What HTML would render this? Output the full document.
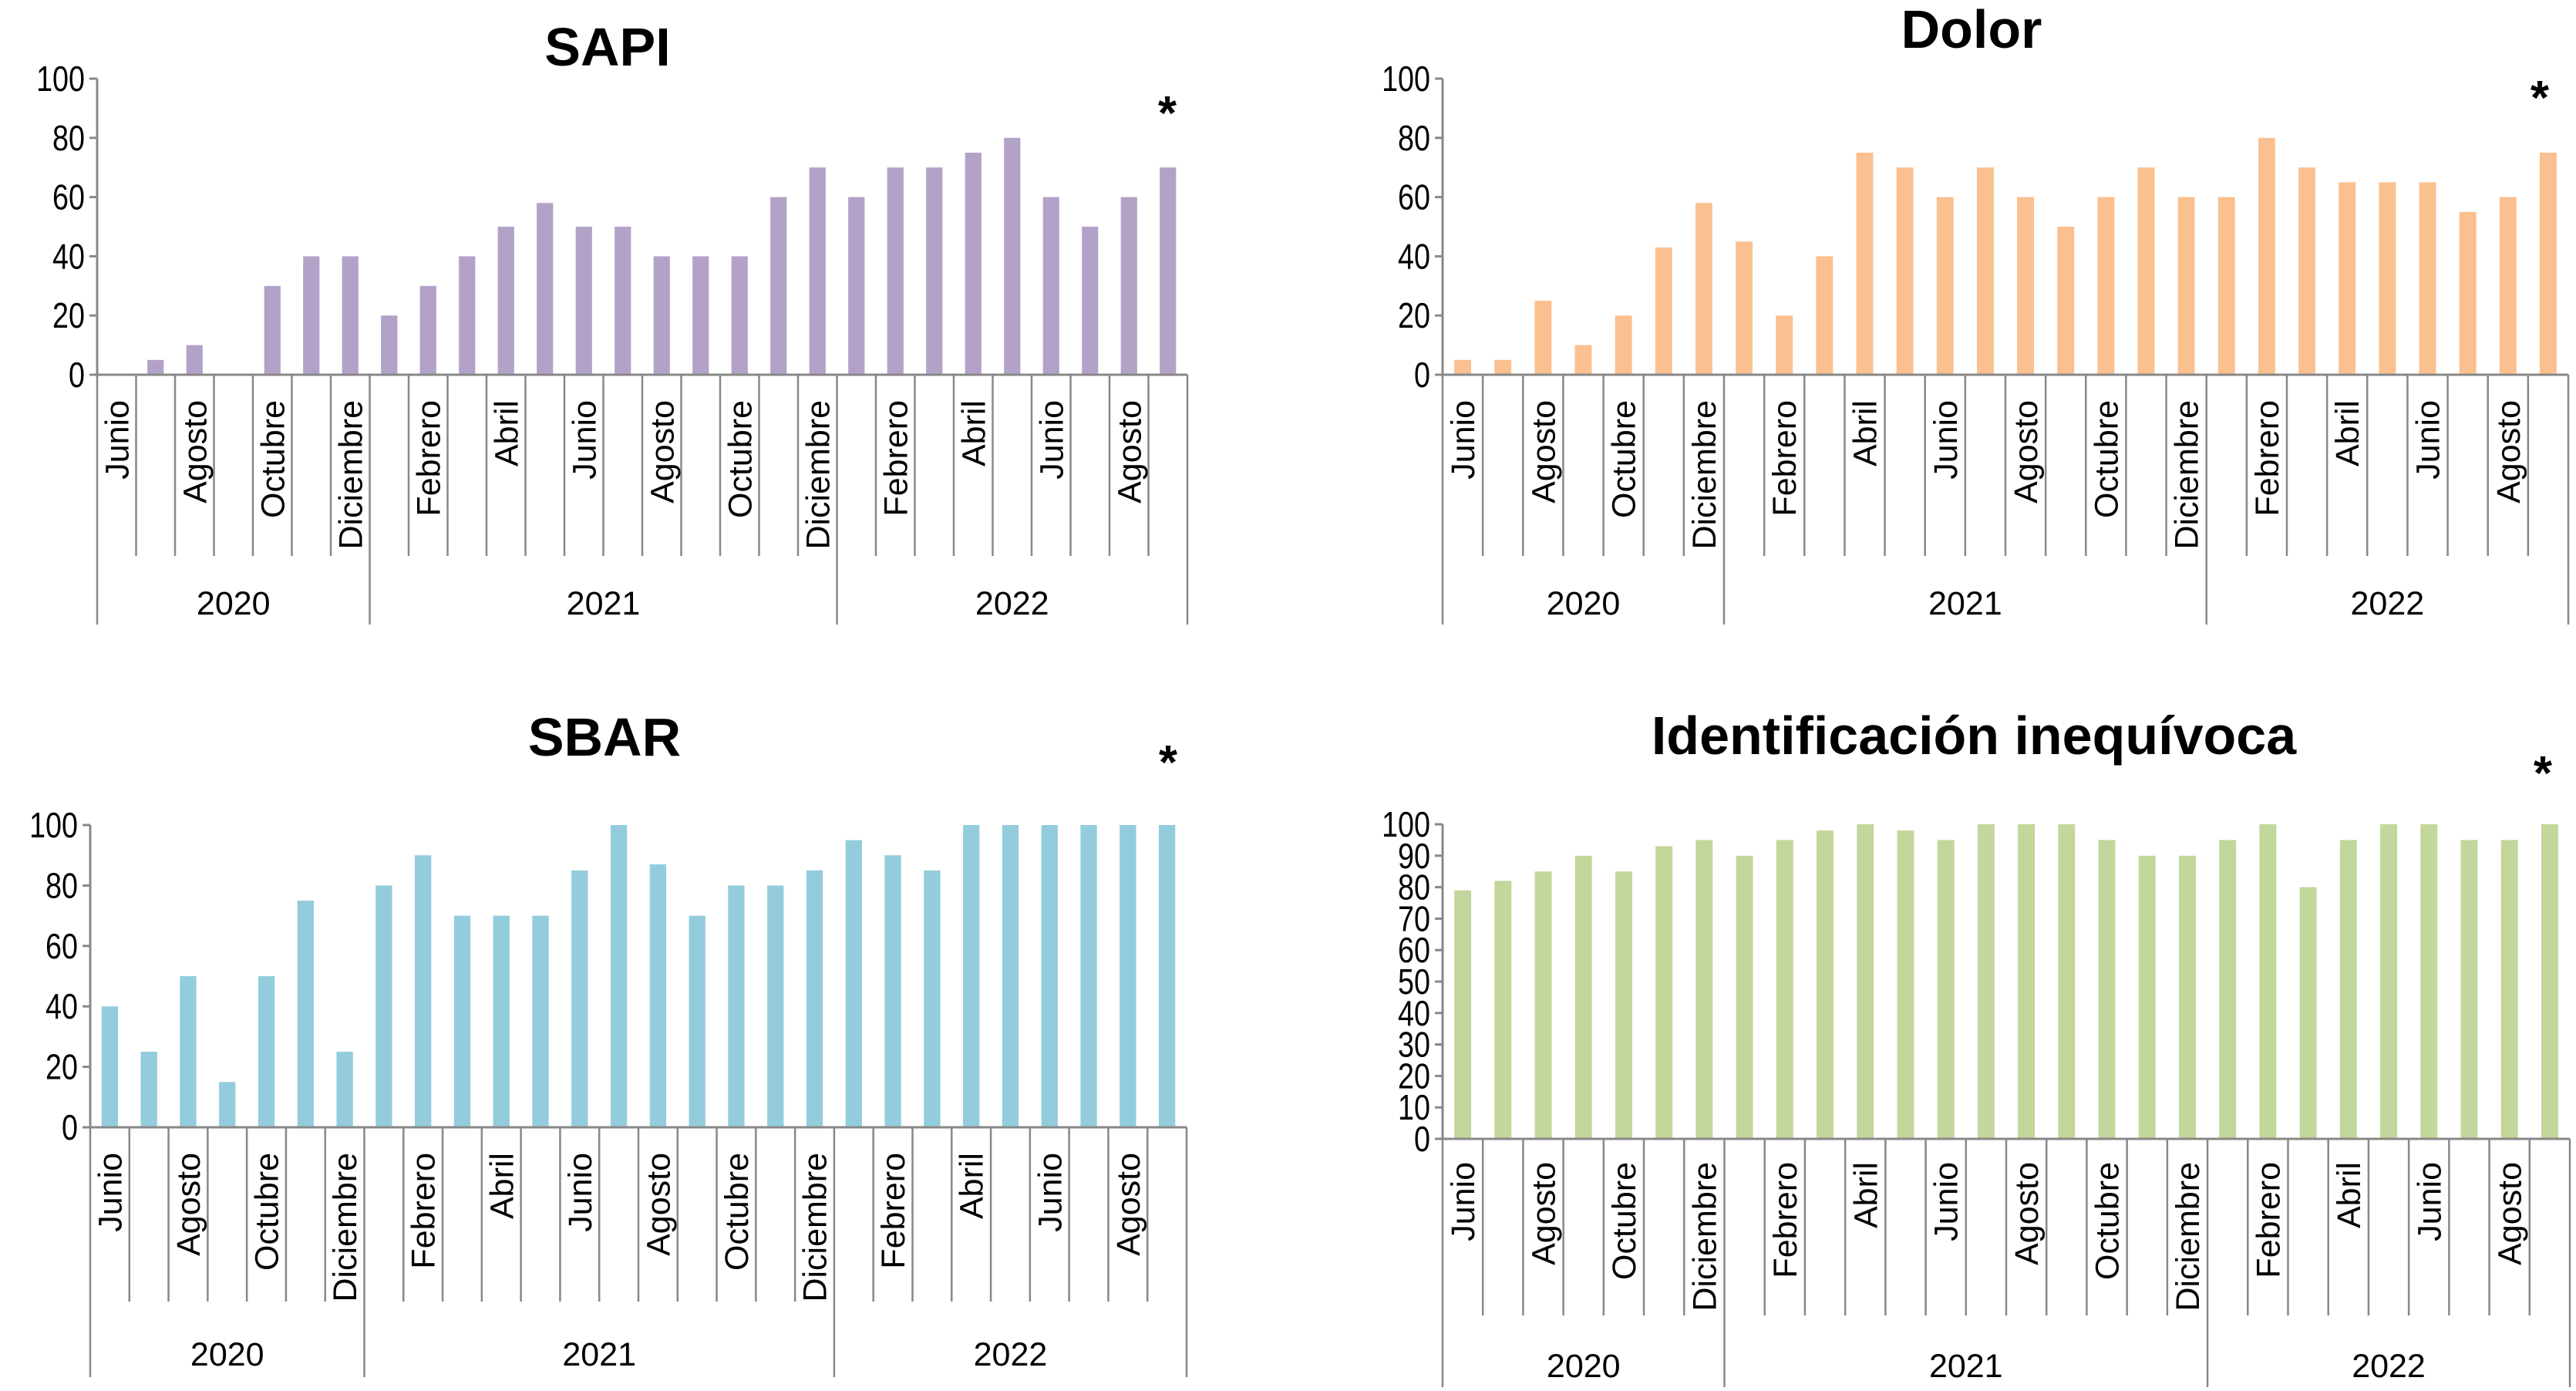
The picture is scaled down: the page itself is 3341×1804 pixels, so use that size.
<!DOCTYPE html>
<html><head><meta charset="utf-8"><style>
html,body{margin:0;padding:0;background:#fff;}
svg{display:block;font-family:"Liberation Sans",Arial,sans-serif;}
</style></head><body>
<svg id="s" width="3341" height="1804" viewBox="0 0 3341 1804"></svg>
<script>
const months = ["Junio","Julio","Agosto","Septiembre","Octubre","Noviembre","Diciembre","Enero","Febrero","Marzo","Abril","Mayo","Junio","Julio","Agosto","Septiembre","Octubre","Noviembre","Diciembre","Enero","Febrero","Marzo","Abril","Mayo","Junio","Julio","Agosto","Septiembre"];
const years = ["2020","2021","2022"];
const yearStarts = [0,7,19];
const sapiValues = [0,5,10,0,30,40,40,20,30,40,50,58,50,50,40,40,40,60,70,60,70,70,75,80,60,50,60,70];
const dolorValues = [5,5,25,10,20,43,58,45,20,40,75,70,60,70,60,50,60,70,60,60,80,70,65,65,65,55,60,75];
const sbarValues = [40,25,50,15,50,75,25,80,90,70,70,70,85,100,87,70,80,80,85,95,90,85,100,100,100,100,100,100];
const identValues = [79,82,85,90,85,93,95,90,95,98,100,98,95,100,100,100,95,90,90,95,100,80,95,100,100,95,95,100];
const ticks20 = [0,20,40,60,80,100];
const ticks10 = [0,10,20,30,40,50,60,70,80,90,100];

const NS="http://www.w3.org/2000/svg";
const svg=document.getElementById('s');
function mk(tag,attrs,parent){const e=document.createElementNS(NS,tag);for(const k in attrs)e.setAttribute(k,attrs[k]);(parent||svg).appendChild(e);return e;}

function chart(cfg){
  const g=mk('g',{});
  
  
  const n=months.length, cw=(cfg.x1-cfg.x0)/n;
  const ys=v=>cfg.y0-(v/100)*(cfg.y0-cfg.yTop);
  const xs=i=>cfg.x0+i*cw;
  const t=mk('text',{x:cfg.tx,y:cfg.ty,'text-anchor':'middle','font-size':70,'font-weight':'bold',fill:'#000'},g);
  t.textContent=cfg.title;
  
  
  const a=mk('text',{x:cfg.ax,y:cfg.ay,'text-anchor':'middle','font-size':62,'font-weight':'bold',fill:'#000'},g);
  a.textContent='*';
  
  
  mk('line',{x1:cfg.x0,y1:cfg.yTop,x2:cfg.x0,y2:cfg.y0,stroke:'#888','stroke-width':3},g);
  cfg.ticks.forEach(v=>{
    mk('line',{x1:cfg.x0-10,y1:ys(v),x2:cfg.x0,y2:ys(v),stroke:'#888','stroke-width':3},g);
    const tl=mk('text',{transform:`translate(${cfg.x0-16},${ys(v)+16}) scale(0.82,1)`,'text-anchor':'end','font-size':46,fill:'#000'},g);
    tl.textContent=v;
    
    
  });
  const bw=cw*0.42;
  cfg.values.forEach((v,i)=>{
    const b=mk('rect',{x:xs(i)+(cw-bw)/2,y:ys(v),width:bw,height:cfg.y0-ys(v),fill:cfg.color},g);
    
    
  });
  mk('line',{x1:cfg.x0,y1:cfg.y0,x2:cfg.x1,y2:cfg.y0,stroke:'#888','stroke-width':3},g);
  for(let i=0;i<=n;i++){
    const isYear=yearStarts.includes(i)||i===n;
    mk('line',{x1:xs(i),y1:cfg.y0,x2:xs(i),y2:isYear?cfg.yearBottom:cfg.tickBottom,stroke:'#888','stroke-width':2.5},g);
  }
  months.forEach((m,i)=>{
    if(i%2!==0) return;
    const cx=xs(i)+cw/2+15;
    const ml=mk('text',{transform:`translate(${cx},${cfg.labelTop}) rotate(-90)`,'text-anchor':'end','font-size':43,fill:'#000'},g);
    ml.textContent=m;
    
    
  });
  years.forEach((y,k)=>{
    const s=yearStarts[k], e=k+1<yearStarts.length?yearStarts[k+1]:n;
    const yl=mk('text',{x:(xs(s)+xs(e))/2,y:cfg.yearY+15,'text-anchor':'middle','font-size':43,fill:'#000'},g);
    yl.textContent=y;
    
    
  });
}
chart({name:'sapi',title:'SAPI',values:sapiValues,ticks:ticks20,color:'#b3a2c7',x0:126,x1:1540,y0:486,yTop:102,tickBottom:721,yearBottom:810,yearY:782,labelTop:519,tx:788,ty:85,ax:1514,ay:168});
chart({name:'dolor',title:'Dolor',values:dolorValues,ticks:ticks20,color:'#fac090',x0:1871,x1:3331,y0:486,yTop:102,tickBottom:721,yearBottom:810,yearY:782,labelTop:519,tx:2557,ty:62,ax:3294,ay:148});
chart({name:'sbar',title:'SBAR',values:sbarValues,ticks:ticks20,color:'#93cddd',x0:117,x1:1539,y0:1462,yTop:1070,tickBottom:1688,yearBottom:1786,yearY:1756,labelTop:1495,tx:784,ty:980,ax:1515,ay:1010});
chart({name:'ident',title:'Identificación inequívoca',values:identValues,ticks:ticks10,color:'#c3d69b',x0:1871,x1:3333,y0:1477,yTop:1069,tickBottom:1706,yearBottom:1799,yearY:1771,labelTop:1507,tx:2560,ty:978,ax:3298,ay:1024});
</script>
</body></html>
